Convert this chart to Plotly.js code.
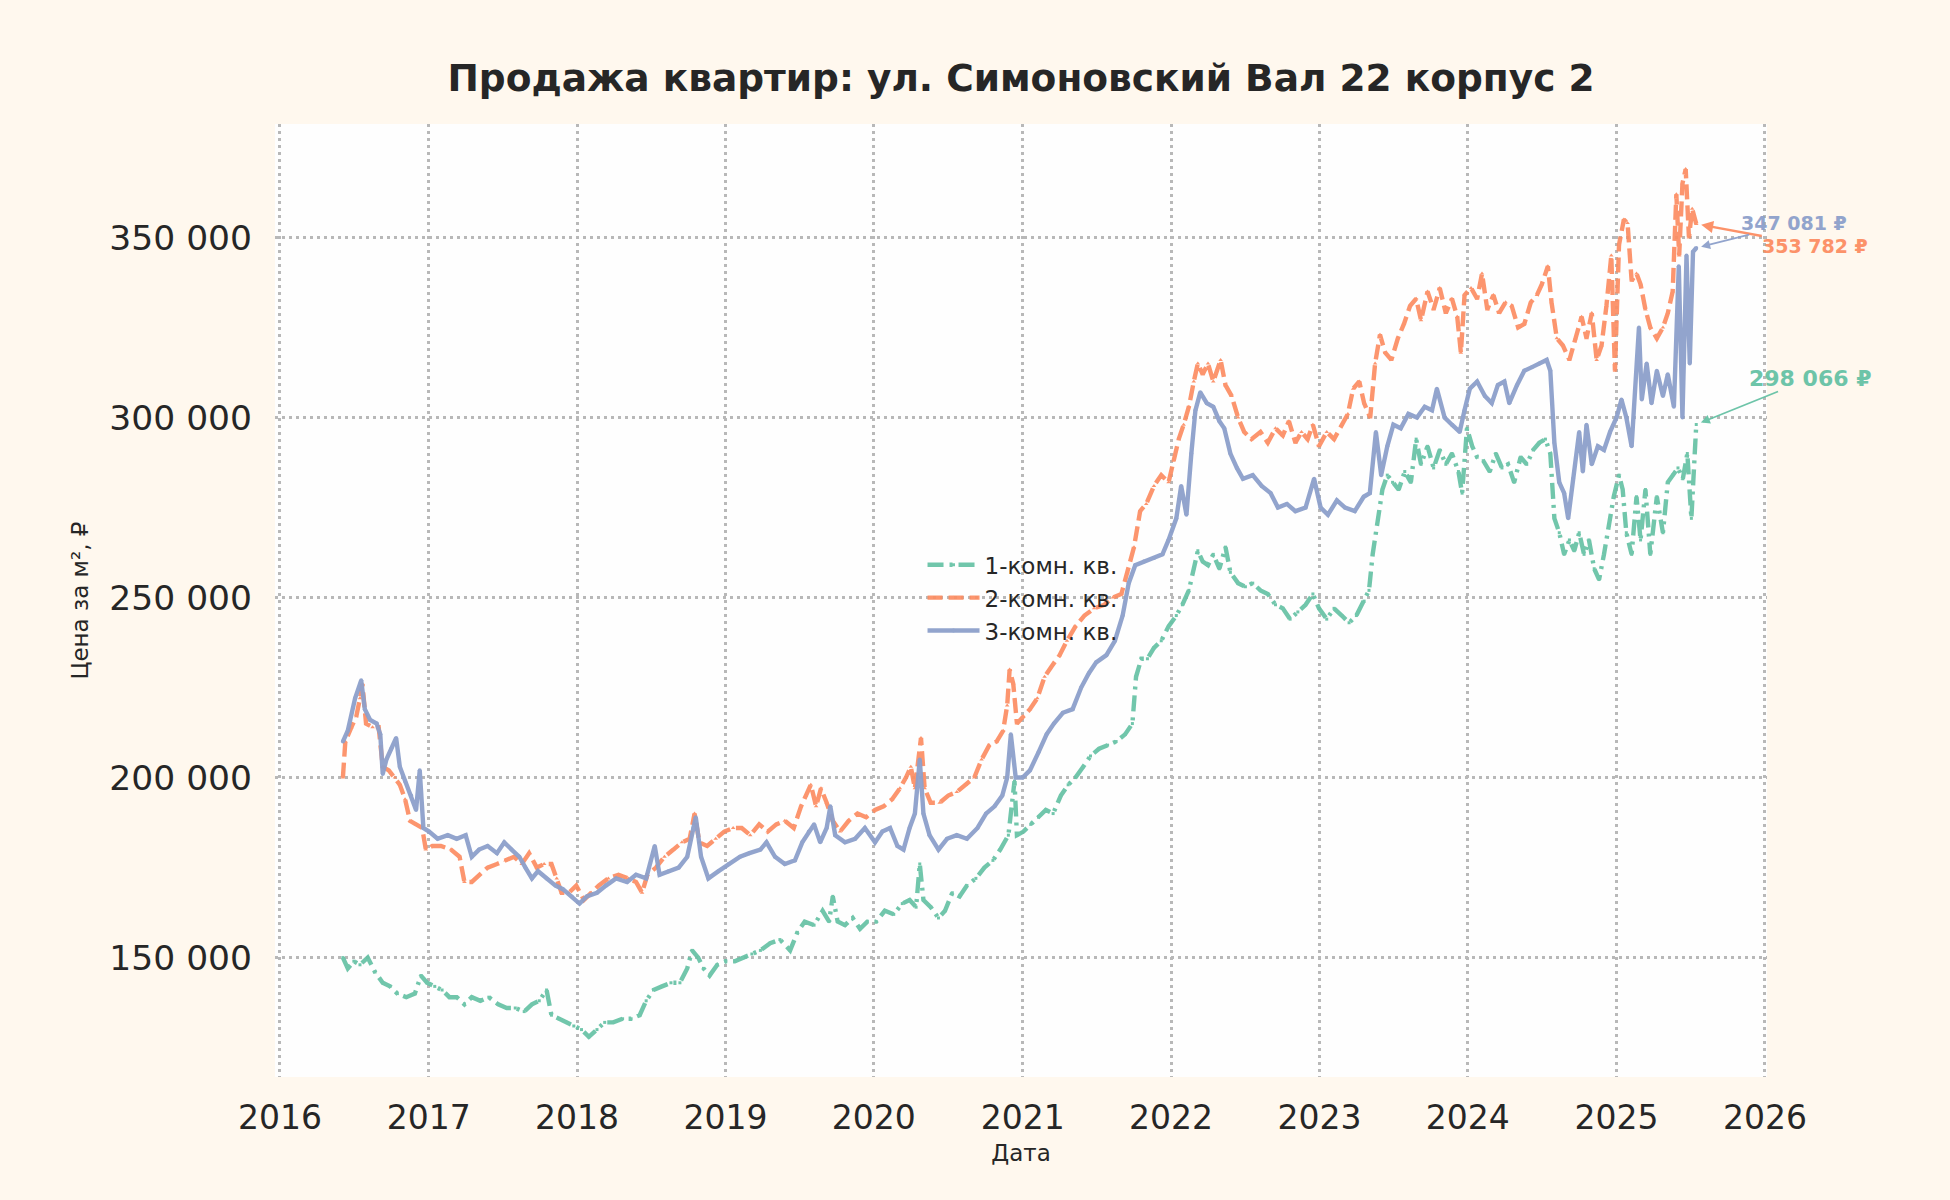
<!DOCTYPE html>
<html>
<head>
<meta charset="utf-8">
<script src="https://cdn.plot.ly/plotly-3.0.1.min.js"></script>
<style>
html,body{margin:0;padding:0;background:#fff8ee;}
#chart{width:1950px;height:1200px;}
</style>
</head>
<body>
<div id="chart"></div>
<script>
// ---- Data ----
const seriesNames = ["1-комн. кв.", "2-комн. кв.", "3-комн. кв."];

const dates1 = ["2016-06-04","2016-06-16","2016-07-01","2016-07-16","2016-08-04","2016-08-22","2016-09-10","2016-09-28","2016-10-16","2016-11-07","2016-11-28","2016-12-13","2016-12-28","2017-01-16","2017-02-03","2017-02-21","2017-03-11","2017-03-30","2017-04-17","2017-05-08","2017-05-29","2017-06-21","2017-07-12","2017-08-02","2017-08-24","2017-09-12","2017-09-30","2017-10-18","2017-10-30","2017-11-18","2017-12-06","2017-12-24","2018-01-12","2018-01-30","2018-02-19","2018-03-10","2018-03-31","2018-04-23","2018-05-14","2018-06-04","2018-06-20","2018-07-08","2018-07-29","2018-08-20","2018-09-11","2018-09-29","2018-10-11","2018-10-26","2018-11-08","2018-11-23","2018-12-12","2019-01-02","2019-01-24","2019-02-14","2019-03-07","2019-03-28","2019-04-21","2019-05-15","2019-06-09","2019-06-27","2019-07-15","2019-08-07","2019-08-28","2019-09-13","2019-09-22","2019-10-04","2019-10-22","2019-11-10","2019-11-28","2019-12-16","2020-01-07","2020-01-28","2020-02-19","2020-03-11","2020-03-29","2020-04-14","2020-04-23","2020-05-02","2020-05-20","2020-06-08","2020-06-24","2020-07-12","2020-07-30","2020-08-17","2020-09-08","2020-09-29","2020-10-20","2020-11-07","2020-11-27","2020-12-12","2020-12-18","2021-01-03","2021-01-21","2021-02-09","2021-02-27","2021-03-17","2021-04-05","2021-04-23","2021-05-11","2021-05-30","2021-06-17","2021-07-08","2021-07-29","2021-08-19","2021-09-10","2021-09-28","2021-10-07","2021-10-20","2021-11-04","2021-11-20","2021-12-08","2021-12-26","2022-01-14","2022-01-29","2022-02-14","2022-02-26","2022-03-08","2022-03-20","2022-04-02","2022-04-15","2022-04-30","2022-05-15","2022-05-27","2022-06-15","2022-07-03","2022-07-21","2022-08-09","2022-08-27","2022-09-15","2022-10-03","2022-10-21","2022-11-09","2022-11-28","2022-12-16","2022-12-31","2023-01-19","2023-02-06","2023-02-25","2023-03-15","2023-04-02","2023-04-21","2023-05-03","2023-05-12","2023-05-24","2023-06-05","2023-06-17","2023-06-30","2023-07-15","2023-07-30","2023-08-14","2023-08-27","2023-09-08","2023-09-24","2023-10-09","2023-10-24","2023-11-08","2023-11-23","2023-12-09","2023-12-18","2023-12-30","2024-01-12","2024-01-24","2024-02-08","2024-02-24","2024-03-10","2024-03-25","2024-04-09","2024-04-24","2024-05-10","2024-05-25","2024-06-10","2024-06-25","2024-07-10","2024-07-22","2024-08-01","2024-08-13","2024-08-25","2024-09-07","2024-09-19","2024-10-01","2024-10-13","2024-10-25","2024-11-07","2024-11-19","2024-12-01","2024-12-13","2024-12-25","2025-01-07","2025-01-16","2025-01-25","2025-02-07","2025-02-19","2025-03-01","2025-03-13","2025-03-25","2025-04-10","2025-04-25","2025-05-07","2025-05-19","2025-06-01","2025-06-13","2025-06-24","2025-07-04","2025-07-16"];
const prices1 = [150000,147000,149000,148000,150000,146000,143000,142000,140000,139000,140000,145000,143000,142000,141000,139000,139000,137000,139000,138000,139000,137000,136000,136000,135000,137000,138000,141000,134000,133000,132000,131000,130000,128000,130000,132000,132000,133000,133000,134000,138000,141000,142000,143000,143000,147000,152000,150000,147000,145000,148000,149000,149000,150000,151000,152000,154000,155000,152000,157000,160000,159000,163000,160000,167000,160000,159000,161000,158000,160000,160000,163000,162000,165000,166000,164000,176000,166000,164000,161000,163000,168000,167000,170000,172000,175000,177000,180000,184000,199000,184000,185000,187000,189000,191000,190000,195000,198000,200000,203000,206000,208000,209000,210000,212000,215000,228000,233000,233000,236000,238000,242000,245000,248000,252000,258000,263000,260000,259000,262000,258000,264000,257000,254000,253000,254000,252000,251000,248000,247000,244000,246000,248000,251000,247000,244000,247000,245000,243000,245000,249000,252000,262000,272000,280000,284000,282000,280000,285000,282000,294000,287000,292000,286000,291000,287000,290000,285000,279000,297000,292000,289000,288000,285000,290000,286000,287000,282000,289000,287000,291000,293000,294000,290000,272000,268000,262000,266000,263000,268000,262000,266000,258000,255000,262000,270000,278000,284000,280000,268000,262000,278000,266000,280000,262000,278000,268000,282000,284000,286000,283000,290000,272000,298066];

const dates2 = ["2016-06-04","2016-06-10","2016-06-25","2016-07-07","2016-07-16","2016-07-22","2016-07-31","2016-08-16","2016-08-31","2016-09-10","2016-09-25","2016-10-10","2016-10-22","2016-11-04","2016-11-16","2016-12-01","2016-12-16","2016-12-25","2017-01-10","2017-01-31","2017-02-25","2017-03-18","2017-03-30","2017-04-17","2017-05-05","2017-05-26","2017-06-18","2017-07-09","2017-07-30","2017-08-18","2017-09-05","2017-09-24","2017-10-12","2017-10-30","2017-11-12","2017-11-24","2017-12-12","2017-12-30","2018-01-18","2018-02-05","2018-02-23","2018-03-19","2018-04-13","2018-05-07","2018-05-26","2018-06-10","2018-06-23","2018-07-14","2018-08-04","2018-08-26","2018-09-16","2018-10-05","2018-10-17","2018-10-29","2018-11-17","2018-12-08","2018-12-29","2019-01-20","2019-02-10","2019-03-03","2019-03-25","2019-04-15","2019-05-06","2019-05-27","2019-06-18","2019-07-06","2019-07-18","2019-07-30","2019-08-12","2019-08-24","2019-09-07","2019-09-22","2019-10-10","2019-10-31","2019-11-22","2019-12-13","2020-01-04","2020-01-25","2020-02-15","2020-03-05","2020-03-20","2020-04-01","2020-04-11","2020-04-26","2020-05-05","2020-05-20","2020-06-11","2020-07-02","2020-07-23","2020-08-14","2020-09-04","2020-09-22","2020-10-11","2020-10-29","2020-11-14","2020-11-24","2020-11-30","2020-12-09","2020-12-18","2021-01-03","2021-01-19","2021-02-06","2021-02-24","2021-03-14","2021-04-02","2021-04-20","2021-05-11","2021-06-02","2021-06-26","2021-07-21","2021-08-11","2021-09-01","2021-09-16","2021-10-02","2021-10-17","2021-11-01","2021-11-20","2021-12-08","2021-12-26","2022-01-07","2022-01-20","2022-02-01","2022-02-14","2022-02-26","2022-03-08","2022-03-20","2022-04-02","2022-04-15","2022-05-03","2022-05-15","2022-05-30","2022-06-15","2022-06-30","2022-07-18","2022-08-09","2022-08-27","2022-09-15","2022-10-03","2022-10-18","2022-11-03","2022-11-18","2022-12-03","2022-12-16","2022-12-31","2023-01-19","2023-02-06","2023-02-25","2023-03-12","2023-03-25","2023-04-09","2023-04-21","2023-05-06","2023-05-18","2023-05-30","2023-06-12","2023-06-27","2023-07-13","2023-07-28","2023-08-12","2023-08-27","2023-09-08","2023-09-24","2023-10-09","2023-10-24","2023-11-08","2023-11-23","2023-12-06","2023-12-15","2023-12-24","2024-01-09","2024-01-24","2024-02-05","2024-02-18","2024-03-04","2024-03-18","2024-04-03","2024-04-18","2024-05-04","2024-05-19","2024-06-04","2024-06-19","2024-07-01","2024-07-16","2024-07-25","2024-08-07","2024-08-22","2024-09-07","2024-09-22","2024-10-07","2024-10-19","2024-11-01","2024-11-13","2024-11-25","2024-12-07","2024-12-19","2024-12-28","2025-01-07","2025-01-19","2025-01-28","2025-02-07","2025-02-19","2025-03-01","2025-03-13","2025-03-25","2025-04-10","2025-04-25","2025-05-07","2025-05-19","2025-05-28","2025-06-04","2025-06-12","2025-06-20","2025-06-28","2025-07-06","2025-07-16"];
const prices2 = [200000,210000,214000,217000,222000,226000,215000,214000,214000,203000,202000,200000,198000,194000,188000,187000,186000,180000,181000,181000,180000,178000,171000,171000,173000,175000,176000,177000,178000,176000,179000,175000,176000,176000,172000,168000,168000,170000,166000,168000,170000,172000,173000,172000,171000,168000,173000,175000,178000,180000,182000,183000,190000,182000,181000,183000,185000,186000,186000,184000,187000,185000,187000,188000,186000,192000,195000,198000,192000,197000,193000,188000,185000,188000,190000,189000,191000,192000,194000,197000,200000,203000,197000,211000,197000,193000,193000,195000,196000,198000,200000,205000,209000,210000,213000,220000,230000,226000,215000,217000,219000,222000,228000,231000,234000,238000,242000,245000,247000,248000,250000,251000,257000,264000,274000,276000,281000,284000,282000,288000,294000,298000,303000,310000,315000,312000,315000,310000,316000,309000,306000,300000,296000,294000,296000,293000,297000,295000,299000,293000,296000,294000,298000,292000,296000,294000,298000,301000,308000,310000,304000,300000,315000,323000,318000,316000,322000,326000,331000,333000,327000,335000,330000,336000,329000,333000,328000,318000,334000,336000,333000,340000,330000,334000,329000,332000,331000,325000,326000,332000,334000,337000,342000,332000,322000,320000,316000,322000,328000,322000,329000,316000,320000,331000,345000,313000,348000,355000,354000,338000,340000,337000,330000,325000,322000,325000,329000,335000,362000,345000,365000,369000,350000,358000,353782];

const dates3 = ["2016-06-04","2016-06-16","2016-07-04","2016-07-19","2016-07-28","2016-08-10","2016-08-26","2016-09-04","2016-09-10","2016-09-19","2016-10-01","2016-10-13","2016-10-22","2016-11-04","2016-11-19","2016-12-01","2016-12-10","2016-12-19","2017-01-02","2017-01-23","2017-02-17","2017-03-11","2017-04-02","2017-04-17","2017-05-05","2017-05-26","2017-06-18","2017-07-06","2017-07-24","2017-08-12","2017-08-27","2017-09-12","2017-09-27","2017-10-18","2017-11-09","2017-11-27","2017-12-19","2018-01-07","2018-01-25","2018-02-19","2018-03-13","2018-04-07","2018-05-04","2018-05-26","2018-06-20","2018-07-11","2018-07-23","2018-08-14","2018-09-08","2018-09-29","2018-10-14","2018-10-20","2018-11-02","2018-11-20","2018-12-15","2019-01-09","2019-02-06","2019-03-01","2019-03-28","2019-04-12","2019-05-03","2019-05-27","2019-06-21","2019-07-09","2019-07-25","2019-08-07","2019-08-22","2019-09-07","2019-09-16","2019-09-28","2019-10-22","2019-11-16","2019-12-10","2020-01-04","2020-01-22","2020-02-10","2020-02-28","2020-03-14","2020-03-29","2020-04-11","2020-04-23","2020-05-02","2020-05-17","2020-06-08","2020-06-29","2020-07-23","2020-08-17","2020-09-12","2020-10-03","2020-10-24","2020-11-12","2020-11-24","2020-12-03","2020-12-15","2021-01-01","2021-01-19","2021-02-09","2021-03-01","2021-03-19","2021-04-10","2021-05-04","2021-05-25","2021-06-13","2021-07-01","2021-07-26","2021-08-16","2021-09-04","2021-09-19","2021-10-05","2021-10-26","2021-11-20","2021-12-11","2021-12-26","2022-01-14","2022-01-26","2022-02-08","2022-02-20","2022-03-02","2022-03-14","2022-03-30","2022-04-15","2022-04-30","2022-05-12","2022-05-27","2022-06-12","2022-06-27","2022-07-21","2022-08-12","2022-09-03","2022-09-21","2022-10-13","2022-11-03","2022-11-28","2022-12-19","2023-01-04","2023-01-22","2023-02-13","2023-03-05","2023-03-29","2023-04-20","2023-05-05","2023-05-20","2023-06-02","2023-06-17","2023-07-02","2023-07-20","2023-08-08","2023-08-29","2023-09-17","2023-10-05","2023-10-17","2023-11-05","2023-11-23","2023-12-12","2023-12-24","2024-01-06","2024-01-24","2024-02-12","2024-02-29","2024-03-15","2024-03-31","2024-04-12","2024-05-01","2024-05-19","2024-06-07","2024-06-25","2024-07-13","2024-07-22","2024-08-01","2024-08-13","2024-08-25","2024-09-04","2024-09-16","2024-10-01","2024-10-10","2024-10-19","2024-11-01","2024-11-16","2024-12-01","2024-12-16","2025-01-01","2025-01-13","2025-01-25","2025-02-07","2025-02-25","2025-03-04","2025-03-16","2025-03-28","2025-04-10","2025-04-25","2025-05-07","2025-05-22","2025-06-03","2025-06-12","2025-06-22","2025-06-30","2025-07-08","2025-07-16"];
const prices3 = [210000,213000,222000,227000,219000,216000,215000,212000,201000,205000,208000,211000,203000,199000,195000,191000,202000,186000,185000,183000,184000,183000,184000,178000,180000,181000,179000,182000,180000,178000,175000,172000,174000,172000,170000,169000,167000,165000,167000,168000,170000,172000,171000,173000,172000,181000,173000,174000,175000,178000,186000,189000,178000,172000,174000,176000,178000,179000,180000,182000,178000,176000,177000,182000,185000,187000,182000,186000,192000,184000,182000,183000,186000,182000,185000,186000,181000,180000,186000,190000,205000,190000,184000,180000,183000,184000,183000,186000,190000,192000,195000,200000,212000,200000,200000,202000,207000,212000,215000,218000,219000,225000,229000,232000,234000,238000,245000,254000,259000,260000,261000,262000,266000,272000,281000,273000,290000,302000,307000,304000,303000,299000,297000,290000,286000,283000,284000,281000,279000,275000,276000,274000,275000,283000,275000,273000,277000,275000,274000,278000,279000,296000,284000,292000,298000,297000,301000,300000,303000,302000,308000,300000,298000,296000,302000,308000,310000,306000,304000,309000,310000,304000,309000,313000,314000,315000,316000,313000,293000,282000,279000,272000,283000,296000,285000,298000,287000,292000,291000,296000,300000,305000,300000,292000,325000,305000,315000,304000,313000,306000,312000,303000,342000,300000,345000,315000,346000,347081];

const lastLabels = ["298 066 ₽", "353 782 ₽", "347 081 ₽"];
const lastValues = [298066, 353782, 347081];
const lastDate = "2025-07-16";

const colors = ["#66c2a5", "#fc8d62", "#8da0cb"];
const FONT = "DejaVu Sans, Liberation Sans, sans-serif";

const traces = [
  {
    x: dates1, y: prices1, name: seriesNames[0], type: "scatter", mode: "lines+markers",
    line: {color: colors[0], width: 4.4, dash: "16px,6px,3px,6px"},
    marker: {color: colors[0], size: 3, symbol: "square"},
    opacity: 0.92
  },
  {
    x: dates2, y: prices2, name: seriesNames[1], type: "scatter", mode: "lines+markers",
    line: {color: colors[1], width: 4.4, dash: "15px,6px"},
    marker: {color: colors[1], size: 4, symbol: "triangle-up"},
    opacity: 0.92
  },
  {
    x: dates3, y: prices3, name: seriesNames[2], type: "scatter", mode: "lines+markers",
    line: {color: colors[2], width: 4.4},
    marker: {color: colors[2], size: 4, symbol: "circle"},
    opacity: 0.95
  }
];

const annOffsets = [[114, -46], [119, 22], [98, -25]];
const annSizes = [22, 19, 19];
const annotations = [0, 1, 2].map(i => ({
  x: lastDate, y: lastValues[i], xref: "x", yref: "y",
  text: "<b>" + lastLabels[i] + "</b>",
  showarrow: true, arrowhead: 2, arrowsize: 1, arrowwidth: i === 1 ? 2.4 : 1.8,
  standoff: 5, borderpad: 0,
  arrowcolor: colors[i], ax: annOffsets[i][0], ay: annOffsets[i][1],
  font: {family: FONT, size: annSizes[i], color: colors[i]},
  opacity: 0.95
}));

const layout = {
  width: 1950, height: 1200,
  paper_bgcolor: "#fff8ee",
  plot_bgcolor: "#fefefe",
  margin: {l: 275, r: 183, t: 124, b: 123, pad: 0},
  separators: ". ",
  showlegend: true,
  hovermode: false,
  title: {
    text: "<b>Продажа квартир: ул. Симоновский Вал 22 корпус 2</b>",
    font: {family: FONT, size: 37.5, color: "#262626"},
    x: 0.5, xref: "paper", xanchor: "center",
    y: 1 - 78 / 1200, yref: "container", yanchor: "middle"
  },
  xaxis: {
    type: "date",
    range: ["2015-12-20", "2026-01-06"],
    dtick: "M12", tick0: "2016-01-01", tickformat: "%Y",
    showgrid: true, gridcolor: "#b8b8b8", gridwidth: 3, griddash: "3px,4px",
    zeroline: false, showline: false, ticks: "",
    ticklabelstandoff: 18,
    tickfont: {family: FONT, size: 33, color: "#262626"},
    title: {text: "Дата", font: {family: FONT, size: 23, color: "#262626"}, standoff: 8}
  },
  yaxis: {
    range: [116833, 381528],
    dtick: 50000, tick0: 0, tickformat: ",d",
    showgrid: true, gridcolor: "#b8b8b8", gridwidth: 3, griddash: "3px,4px",
    zeroline: false, showline: false, ticks: "",
    ticklabelstandoff: 22,
    tickfont: {family: FONT, size: 34.5, color: "#262626"},
    title: {text: "Цена за м², ₽", font: {family: FONT, size: 23, color: "#262626"}, standoff: 14}
  },
  legend: {
    x: 0.434, y: 0.56, xanchor: "left", yanchor: "top",
    bgcolor: "rgba(0,0,0,0)", borderwidth: 0,
    itemwidth: 52,
    font: {family: FONT, size: 23, color: "#262626"},
    tracegroupgap: 4
  },
  annotations: annotations
};

Plotly.newPlot("chart", traces, layout, {displayModeBar: false, staticPlot: true});
</script>
</body>
</html>
